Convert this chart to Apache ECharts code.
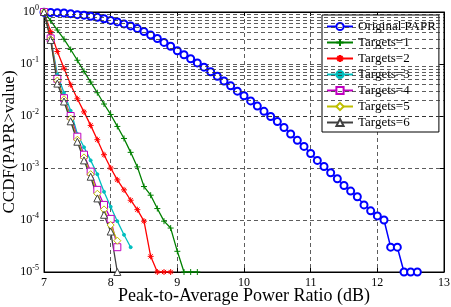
<!DOCTYPE html>
<html>
<head>
<meta charset="utf-8">
<script src="https://cdn.jsdelivr.net/npm/echarts@6/dist/echarts.min.js"></script>
<style>
  html, body { margin: 0; padding: 0; background: #fff; }
  #chart { width: 451px; height: 307px; }
</style>
</head>
<body>
<div id="chart"></div>
<script>
// x positions (dB) of each curve
const xOrig = [7.0, 7.1, 7.2, 7.3, 7.4, 7.5, 7.6, 7.7, 7.8, 7.9,
  8.0, 8.1, 8.2, 8.3, 8.4, 8.5, 8.6, 8.7, 8.8, 8.9,
  9.0, 9.1, 9.2, 9.3, 9.4, 9.5, 9.6, 9.7, 9.8, 9.9,
  10.0, 10.1, 10.2, 10.3, 10.4, 10.5, 10.6, 10.7, 10.8, 10.9,
  11.0, 11.1, 11.2, 11.3, 11.4, 11.5, 11.6, 11.7, 11.8, 11.9,
  12.0, 12.1, 12.2, 12.3, 12.4, 12.5, 12.6]
const origPapr = [0.99, 0.98, 0.97, 0.955, 0.93, 0.89, 0.87, 0.83, 0.79, 0.74,
  0.69, 0.645, 0.59, 0.54, 0.48, 0.42, 0.36, 0.31, 0.26, 0.22,
  0.18, 0.151, 0.126, 0.105, 0.087, 0.071, 0.058, 0.047, 0.038, 0.030,
  0.0245, 0.0195, 0.0155, 0.0123, 0.0098, 0.0078, 0.006, 0.0045, 0.0034, 0.0026,
  0.0019, 0.0014, 0.00107, 0.00081, 0.00062, 0.00046, 0.00036, 0.00028, 0.000195, 0.00015,
  0.00012, 0.0001, 0.00003, 0.00003, 0.00001, 0.00001, 0.00001]

const xT1 = [7.0, 7.1, 7.2, 7.3, 7.4, 7.5, 7.6, 7.7, 7.8, 7.9,
  8.0, 8.1, 8.2, 8.3, 8.4, 8.5, 8.6, 8.7, 8.8, 8.9, 9.0, 9.1, 9.2, 9.3]
const target1 = [1, 0.68, 0.45, 0.30, 0.19, 0.118, 0.072, 0.045, 0.028, 0.017,
  0.0107, 0.0063, 0.0037, 0.002, 0.00105, 0.00044, 0.0003, 0.000166, 0.000095, 0.00007,
  0.000025, 0.00001, 0.00001, 0.00001]

const xT2 = [7.0, 7.1, 7.2, 7.3, 7.4, 7.5, 7.6, 7.7, 7.8, 7.9,
  8.0, 8.1, 8.2, 8.3, 8.4, 8.5, 8.6, 8.7, 8.8, 8.9]
const target2 = [1, 0.42, 0.174, 0.083, 0.04, 0.0214, 0.012, 0.0066, 0.0035, 0.0018,
  0.001, 0.00059, 0.00038, 0.00024, 0.000158, 0.000095, 0.00002, 0.00001, 0.00001, 0.00001]

const xT3 = [7.0, 7.1, 7.2, 7.3, 7.4, 7.5, 7.6, 7.7, 7.8, 7.9, 8.0, 8.1, 8.2, 8.3]
const target3 = [1, 0.32, 0.063, 0.028, 0.0126, 0.0045, 0.0025, 0.0014, 0.00076, 0.00035,
  0.00018, 0.000095, 0.000052, 0.00003]

const xT456 = [7.0, 7.1, 7.2, 7.3, 7.4, 7.5, 7.6, 7.7, 7.8, 7.9, 8.0, 8.1]
const target4 = [1, 0.31, 0.052, 0.022, 0.01, 0.004, 0.0018, 0.00085, 0.00038, 0.000195, 0.000105, 0.00003]
const target5 = [1, 0.30, 0.048, 0.021, 0.0089, 0.0035, 0.0016, 0.00076, 0.00032, 0.00016, 0.00008, 0.00004]
const target6 = [1, 0.29, 0.042, 0.019, 0.0079, 0.0032, 0.0014, 0.00068, 0.00026, 0.000126, 0.00006, 0.00001]

const xTicks = [7, 8, 9, 10, 11, 12, 13]
const yExponents = [0, -1, -2, -3, -4, -5]

// minor log grid lines 2..9 x 10^k
const minorGrid = []
for (let k = -5; k < 0; k++) {
  for (let m = 2; m <= 9; m++) minorGrid.push(m * Math.pow(10, k))
}

const FONT = 'Liberation Serif, Times New Roman, serif'
const gridLine = { color: '#333', width: 0.8, type: [4, 3] }
const tick = { show: true, inside: true, length: 4, lineStyle: { color: '#000' } }

const pair = (xs, ys) => xs.map((x, i) => [x, ys[i]])

const plusPath = 'path://M5,0V10M0,5H10'
const starPath = 'path://M5,0V10M0,5H10M1.5,1.5L8.5,8.5M8.5,1.5L1.5,8.5'

const mk = (name, xs, ys, color, symbol, size, opts) => Object.assign({
  name: name,
  type: 'line',
  data: pair(xs, ys),
  symbol: symbol,
  symbolSize: size,
  showAllSymbol: true,
  lineStyle: { color: color, width: 1.3 },
  itemStyle: { color: color, borderColor: color, borderWidth: 1 },
  emphasis: { disabled: true },
  animation: false
}, opts || {})

const series = [
  mk('Original PAPR', xOrig, origPapr, '#0000ff', 'emptyCircle', 7,
    { lineStyle: { color: '#0000ff', width: 1.5 }, itemStyle: { color: '#0000ff', borderColor: '#0000ff', borderWidth: 1.3 } }),
  mk('Targets=1', xT1, target1, '#008000', plusPath, 6),
  mk('Targets=2', xT2, target2, '#ff0000', starPath, 6),
  mk('Targets=3', xT3, target3, '#00bfbf', 'circle', 3),
  mk('Targets=4', xT456, target4, '#bf00bf', 'path://M0,0H10V10H0Z', 7,
    { itemStyle: { color: '#fff', borderColor: '#bf00bf', borderWidth: 1 } }),
  mk('Targets=5', xT456, target5, '#bfbf00', 'diamond', 7,
    { itemStyle: { color: '#fff', borderColor: '#bfbf00', borderWidth: 1 } }),
  mk('Targets=6', xT456, target6, '#404040', 'triangle', 7,
    { itemStyle: { color: '#fff', borderColor: '#404040', borderWidth: 1 } }),
  {
    name: 'grid',
    type: 'line',
    data: [],
    silent: true,
    markLine: {
      symbol: 'none',
      silent: true,
      label: { show: false },
      lineStyle: gridLine,
      animation: false,
      data: minorGrid.map(v => ({ yAxis: v }))
    }
  }
]

const chart = echarts.init(document.getElementById('chart'), null, { renderer: 'canvas' })
chart.setOption({
  backgroundColor: '#fff',
  animation: false,
  textStyle: { fontFamily: FONT },
  grid: { left: 44, right: 7, top: 12, bottom: 35, outerBoundsMode: 'none', containLabel: false,
    show: true, borderColor: '#000', borderWidth: 1 },
  legend: {
    data: series.slice(0, 7).map(s => s.name),
    orient: 'vertical',
    left: 322,
    top: 15,
    padding: [5, 3, 3, 4],
    itemWidth: 26,
    itemHeight: 9,
    itemGap: 3,
    backgroundColor: '#fff',
    borderColor: '#000',
    borderWidth: 1,
    textStyle: { fontFamily: FONT, fontSize: 13, color: '#000' }
  },
  xAxis: [{
    type: 'value',
    min: 7,
    max: 13,
    interval: 1,
    name: 'Peak-to-Average Power Ratio (dB)',
    nameLocation: 'middle',
    nameGap: 15,
    nameMoveOverlap: false,
    nameTextStyle: { fontFamily: FONT, fontSize: 18, color: '#000' },
    axisLine: { show: true, onZero: false, lineStyle: { color: '#000' } },
    axisTick: tick,
    axisLabel: { fontFamily: FONT, fontSize: 12, color: '#000', margin: 5,
      formatter: v => xTicks.includes(v) ? String(v) : '' },
    splitLine: { show: true, lineStyle: gridLine }
  }, {
    type: 'value',
    position: 'top',
    min: 7,
    max: 13,
    interval: 1,
    axisLine: { show: true, onZero: false, lineStyle: { color: '#000' } },
    axisTick: tick,
    axisLabel: { show: false },
    splitLine: { show: false }
  }],
  yAxis: [{
    type: 'log',
    logBase: 10,
    min: 1e-5,
    max: 1,
    name: 'CCDF(PAPR>value)',
    nameLocation: 'middle',
    nameGap: 26,
    nameMoveOverlap: false,
    nameTextStyle: { fontFamily: FONT, fontSize: 17, color: '#000' },
    axisLine: { show: true, lineStyle: { color: '#000' } },
    axisTick: tick,
    axisLabel: {
      margin: 5,
      formatter: v => {
        const e = Math.round(Math.log10(v))
        return yExponents.includes(e) ? '{b|10}{s|' + e + '}' : ''
      },
      rich: {
        b: { fontFamily: FONT, fontSize: 12, color: '#000' },
        s: { fontFamily: FONT, fontSize: 8, color: '#000', padding: [0, 0, 9, 0] }
      }
    },
    splitLine: { show: true, lineStyle: gridLine }
  }, {
    type: 'log',
    logBase: 10,
    min: 1e-5,
    max: 1,
    position: 'right',
    axisLine: { show: true, lineStyle: { color: '#000' } },
    axisTick: tick,
    axisLabel: { show: false },
    splitLine: { show: false }
  }],
  series: series
})
</script>
</body>
</html>
